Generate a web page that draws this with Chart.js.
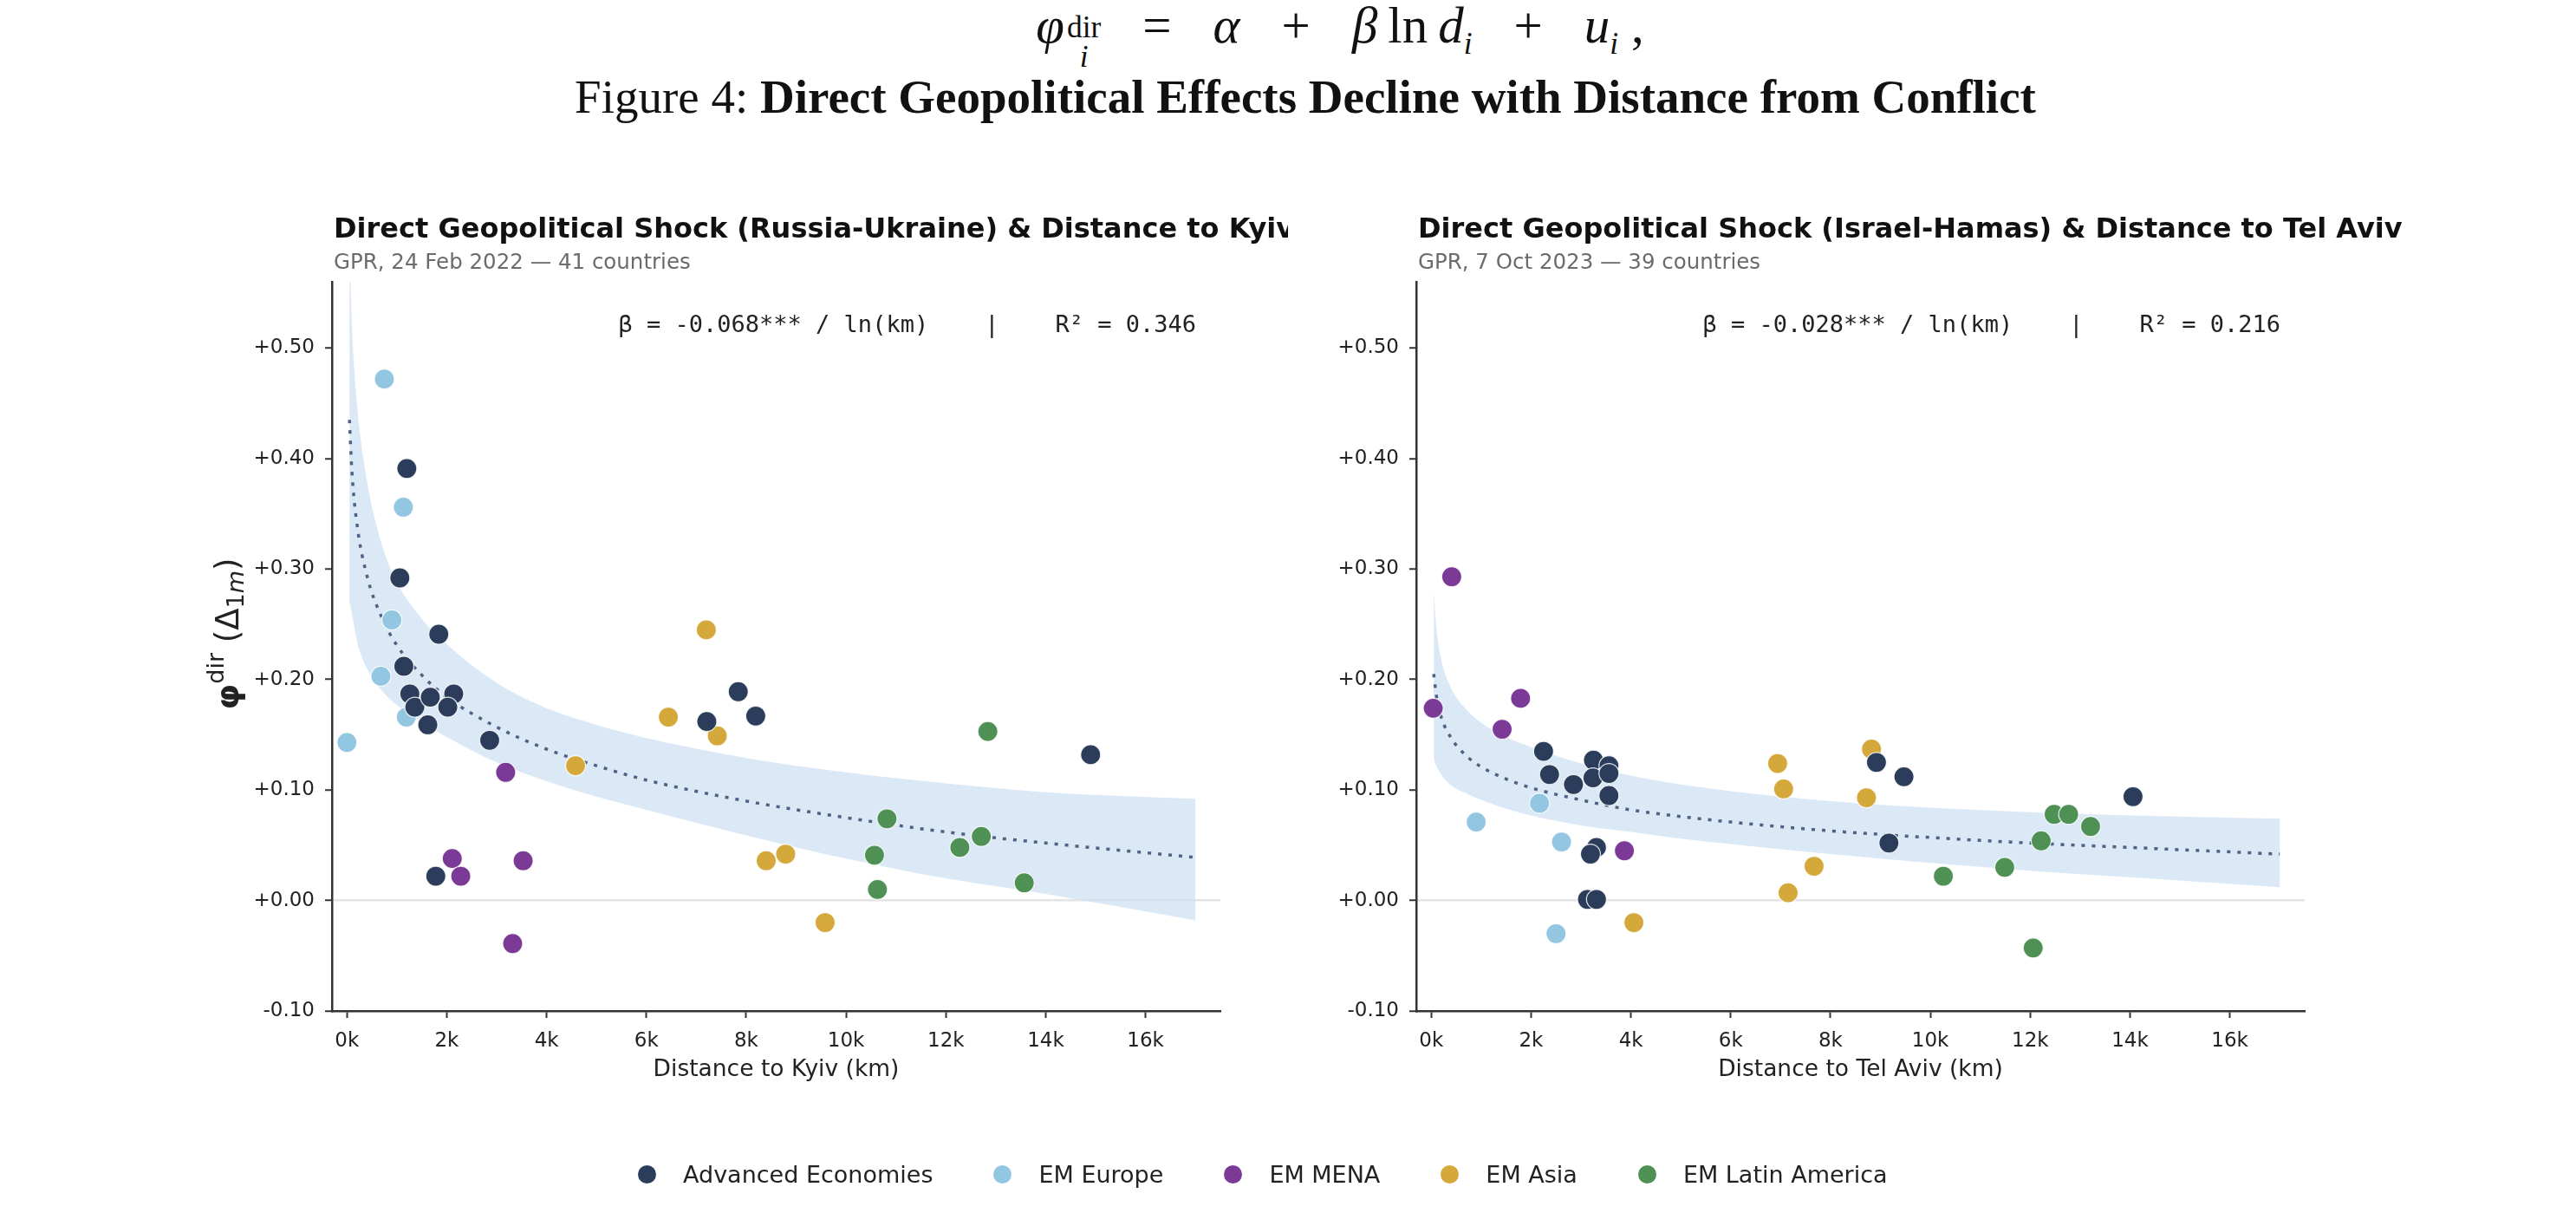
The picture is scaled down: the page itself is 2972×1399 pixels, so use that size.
<!DOCTYPE html>
<html>
<head>
<meta charset="utf-8">
<script src="https://cdn.jsdelivr.net/npm/chart.js@4.4.1/dist/chart.umd.min.js"></script>
<style>
  body { margin: 0; width: 2972px; height: 1399px; background: #fff; position: relative; overflow: hidden; font-family: "DejaVu Sans", sans-serif; }
  #eq { position: absolute; top: -5px; left: 120px; width: 2852px; text-align: center; font-family: "Liberation Serif", "DejaVu Serif", serif; font-size: 59px; color: #111; white-space: nowrap; }
  #eq i { font-style: italic; }
  #eq .op { margin: 0 48px; }
  #eq .ln { margin: 0 12px; }
  #eq .stack { display: inline-flex; flex-direction: column; font-size: 0.6em; line-height: 0.95; vertical-align: 6px; margin-left: 3px; }
  #eq sub { font-size: 0.6em; }
  #figtitle { position: absolute; top: 80px; left: 40px; width: 2932px; text-align: center; font-family: "Liberation Serif", "DejaVu Serif", serif; font-size: 55px; color: #111; white-space: nowrap; }
  canvas { position: absolute; top: 0; }
  #legend { position: absolute; top: 1339px; left: 736px; display: flex; align-items: center; font-size: 27px; color: #222; white-space: nowrap; }
  #legend .item { display: flex; align-items: center; margin-right: 70px; }
  #legend .dot { width: 21px; height: 21px; border-radius: 50%; margin-right: 31px; }
</style>
</head>
<body>
<div id="eq"><i>φ</i><span class="stack"><span>dir</span><i>i</i></span><span class="op">=</span><i>α</i><span class="op">+</span><i>β</i><span class="ln">ln</span><i>d</i><sub><i>i</i></sub><span class="op">+</span><i>u</i><sub><i>i</i></sub> ,</div>
<div id="figtitle">Figure 4: <b>Direct Geopolitical Effects Decline with Distance from Conflict</b></div>
<canvas id="graficoKyiv" width="1486" height="1399" style="left:0px"></canvas>
<canvas id="graficoTelAviv" width="1486" height="1399" style="left:1486px"></canvas>
<div id="legend"></div>
<script>
// Grupos de países e cores
const grupos = ['Advanced Economies', 'EM Europe', 'EM MENA', 'EM Asia', 'EM Latin America'];
const cores = ['#2b3d5b', '#93c6e0', '#7b3a96', '#d4a83a', '#4f9155'];

// Eixos
const xTicks = [0, 2000, 4000, 6000, 8000, 10000, 12000, 14000, 16000];
const yTicks = [-0.10, 0.00, 0.10, 0.20, 0.30, 0.40, 0.50];

// Rússia-Ucrânia: distância a Kyiv (km) e choque direto
const kyivAdvX = [1200, 1060, 1840, 1140, 1260, 1360, 1670, 2140, 2020, 1620, 2860, 7840, 7210, 8190, 1780, 14900];
const kyivAdvY = [0.391, 0.292, 0.241, 0.212, 0.187, 0.175, 0.184, 0.187, 0.175, 0.159, 0.145, 0.189, 0.162, 0.167, 0.022, 0.132];
const kyivEurX = [750, 1130, 900, 680, 1190, 0];
const kyivEurY = [0.472, 0.356, 0.254, 0.203, 0.166, 0.143];
const kyivMenaX = [3180, 2110, 2280, 3530, 3320];
const kyivMenaY = [0.116, 0.038, 0.022, 0.036, -0.039];
const kyivAsiaX = [7200, 6440, 7420, 4580, 8400, 8790, 9580];
const kyivAsiaY = [0.245, 0.166, 0.149, 0.122, 0.036, 0.042, -0.020];
const kyivLatamX = [12840, 10820, 12710, 12280, 10570, 13570, 10630];
const kyivLatamY = [0.153, 0.074, 0.058, 0.048, 0.041, 0.016, 0.010];

// Israel-Hamas: distância a Tel Aviv (km) e choque direto
const tlvAdvX = [2250, 2370, 2850, 3250, 3240, 3560, 3560, 3560, 3310, 3190, 3130, 3310, 8920, 9470, 9170, 14060];
const tlvAdvY = [0.135, 0.114, 0.105, 0.127, 0.111, 0.122, 0.115, 0.095, 0.048, 0.042, 0.001, 0.001, 0.125, 0.112, 0.052, 0.094];
const tlvEurX = [900, 2170, 2610, 2500];
const tlvEurY = [0.071, 0.088, 0.053, -0.030];
const tlvMenaX = [40, 1420, 1790, 3870, 410];
const tlvMenaY = [0.174, 0.155, 0.183, 0.045, 0.293];
const tlvAsiaX = [6940, 7060, 7150, 7670, 8820, 8720, 4060];
const tlvAsiaY = [0.124, 0.101, 0.007, 0.031, 0.137, 0.093, -0.020];
const tlvLatamX = [10260, 11490, 12220, 12480, 12770, 13210, 12060];
const tlvLatamY = [0.022, 0.030, 0.054, 0.078, 0.078, 0.067, -0.043];

// Curva ajustada e banda
const fitDist = [50, 100, 200, 400, 700, 1000, 1500, 2000, 3000, 4000, 5000, 6000, 8000, 10000, 12000, 14000, 17000];
const kyivFit = [0.435, 0.388, 0.341, 0.294, 0.256, 0.231, 0.204, 0.184, 0.157, 0.137, 0.122, 0.109, 0.090, 0.075, 0.062, 0.052, 0.039];
const kyivUpper = [0.600, 0.520, 0.450, 0.380, 0.322, 0.288, 0.255, 0.232, 0.197, 0.174, 0.159, 0.147, 0.129, 0.116, 0.106, 0.098, 0.092];
const kyivLower = [0.270, 0.260, 0.235, 0.210, 0.190, 0.177, 0.162, 0.148, 0.125, 0.108, 0.094, 0.082, 0.059, 0.038, 0.020, 0.006, -0.018];
const tlvFit = [0.205, 0.186, 0.166, 0.147, 0.131, 0.121, 0.110, 0.102, 0.091, 0.082, 0.076, 0.071, 0.063, 0.057, 0.052, 0.048, 0.042];
const tlvUpper = [0.280, 0.248, 0.218, 0.192, 0.173, 0.161, 0.148, 0.139, 0.124, 0.113, 0.105, 0.099, 0.090, 0.084, 0.080, 0.077, 0.074];
const tlvLower = [0.128, 0.122, 0.114, 0.104, 0.097, 0.091, 0.083, 0.077, 0.068, 0.062, 0.056, 0.051, 0.042, 0.034, 0.027, 0.021, 0.012];

const pares = (xs, ys) => xs.map((x, i) => ({ x: x, y: ys[i] }));

function montarDatasets(grupoXY, fit, upper, lower) {
    const ds = grupoXY.map((g, i) => ({
        label: grupos[i],
        data: pares(g[0], g[1]),
        backgroundColor: cores[i],
        borderColor: 'rgba(255,255,255,0.85)',
        borderWidth: 1.2,
        pointRadius: 11.5,
        pointHoverRadius: 11.5
    }));
    ds.push({
        label: 'fit',
        data: pares(fitDist, fit),
        showLine: true,
        borderColor: '#4f6283',
        borderWidth: 3.5,
        borderDash: [4, 8],
        pointRadius: 0,
        cubicInterpolationMode: 'monotone',
        fill: false
    });
    ds.push({
        label: 'upper',
        data: pares(fitDist, upper),
        showLine: true,
        borderWidth: 0,
        borderColor: 'rgba(0,0,0,0)',
        pointRadius: 0,
        cubicInterpolationMode: 'monotone',
        fill: '+1',
        backgroundColor: 'rgba(205,223,243,0.72)'
    });
    ds.push({
        label: 'lower',
        data: pares(fitDist, lower),
        showLine: true,
        borderWidth: 0,
        borderColor: 'rgba(0,0,0,0)',
        pointRadius: 0,
        cubicInterpolationMode: 'monotone',
        fill: false
    });
    return ds;
}

// Textos desenhados em volta da área do gráfico
const decor = {
    id: 'decor',
    afterDraw(chart, args, o) {
        const ctx = chart.ctx;
        const a = chart.chartArea;
        ctx.save();
        ctx.textBaseline = 'middle';
        ctx.textAlign = 'left';
        ctx.fillStyle = '#111';
        ctx.font = 'bold 32px "DejaVu Sans"';
        ctx.fillText(o.title, a.left + 2, 266);
        ctx.fillStyle = '#6b6b6b';
        ctx.font = '24.5px "DejaVu Sans"';
        ctx.fillText(o.subtitle, a.left + 2, 304);
        ctx.fillStyle = '#222';
        ctx.font = '27px "DejaVu Sans Mono"';
        ctx.textAlign = 'right';
        ctx.fillText(o.note, a.right - 28, 376);
        ctx.textAlign = 'center';
        ctx.font = '26.5px "DejaVu Sans"';
        ctx.fillText(o.xTitle, (a.left + a.right) / 2, a.bottom + 68);
        if (o.yTitle) {
            ctx.translate(265, 731);
            ctx.rotate(-Math.PI / 2);
            ctx.textAlign = 'left';
            const partes = [
                ['φ', 'bold 38px "DejaVu Sans"', 0],
                ['dir', '27px "DejaVu Sans"', -14],
                [' (Δ', '37px "DejaVu Sans"', 0],
                ['1', '27px "DejaVu Sans"', 9],
                ['m', 'italic 27px "DejaVu Sans"', 9],
                [')', '37px "DejaVu Sans"', 0]
            ];
            let total = 0;
            partes.forEach(p => { ctx.font = p[1]; total += ctx.measureText(p[0]).width; });
            let x = -total / 2;
            partes.forEach(p => {
                ctx.font = p[1];
                ctx.fillText(p[0], x, p[2]);
                x += ctx.measureText(p[0]).width;
            });
        }
        ctx.restore();
    }
};

function criarGrafico(id, datasets, padLeft, padRight, textos) {
    const ctx = document.getElementById(id).getContext('2d');
    return new Chart(ctx, {
        type: 'scatter',
        data: { datasets: datasets },
        options: {
            responsive: false,
            animation: false,
            layout: { padding: { left: padLeft, right: padRight, top: 325, bottom: 153 } },
            plugins: {
                legend: { display: false },
                tooltip: { enabled: false },
                decor: textos
            },
            scales: {
                x: {
                    type: 'linear',
                    min: -300,
                    max: 17500,
                    afterBuildTicks: s => { s.ticks = xTicks.map(v => ({ value: v })); },
                    afterFit: s => { s.height = 80; },
                    border: { display: true, color: '#333', width: 2.5 },
                    grid: { drawOnChartArea: false, tickColor: '#333', tickLength: 8, tickWidth: 2 },
                    ticks: {
                        autoSkip: false, maxRotation: 0, padding: 13, color: '#222',
                        font: { family: 'DejaVu Sans', size: 23 },
                        callback: v => (v / 1000) + 'k'
                    }
                },
                y: {
                    min: -0.10,
                    max: 0.56,
                    afterBuildTicks: s => { s.ticks = yTicks.map(v => ({ value: v })); },
                    afterFit: s => { s.width = 100; },
                    border: { display: true, color: '#333', width: 2.5 },
                    grid: {
                        color: c => (c.tick && Math.abs(c.tick.value) < 1e-9) ? '#e4e4e4' : 'rgba(0,0,0,0)',
                        lineWidth: 2.5,
                        tickColor: '#333', tickLength: 8, tickWidth: 2
                    },
                    ticks: {
                        padding: 12, color: '#222',
                        font: { family: 'DejaVu Sans', size: 23 },
                        callback: v => (v >= 0 ? '+' : '') + v.toFixed(2)
                    }
                }
            }
        },
        plugins: [decor]
    });
}

const graficoKyiv = criarGrafico('graficoKyiv',
    montarDatasets([[kyivAdvX, kyivAdvY], [kyivEurX, kyivEurY], [kyivMenaX, kyivMenaY], [kyivAsiaX, kyivAsiaY], [kyivLatamX, kyivLatamY]],
        kyivFit, kyivUpper, kyivLower),
    283, 78,
    {
        title: 'Direct Geopolitical Shock (Russia-Ukraine) & Distance to Kyiv',
        subtitle: 'GPR, 24 Feb 2022 — 41 countries',
        note: 'β = -0.068*** / ln(km)    |    R² = 0.346',
        xTitle: 'Distance to Kyiv (km)',
        yTitle: true
    });

const graficoTelAviv = criarGrafico('graficoTelAviv',
    montarDatasets([[tlvAdvX, tlvAdvY], [tlvEurX, tlvEurY], [tlvMenaX, tlvMenaY], [tlvAsiaX, tlvAsiaY], [tlvLatamX, tlvLatamY]],
        tlvFit, tlvUpper, tlvLower),
    48, 313,
    {
        title: 'Direct Geopolitical Shock (Israel-Hamas) & Distance to Tel Aviv',
        subtitle: 'GPR, 7 Oct 2023 — 39 countries',
        note: 'β = -0.028*** / ln(km)    |    R² = 0.216',
        xTitle: 'Distance to Tel Aviv (km)',
        yTitle: false
    });

// Legenda comum
const legenda = document.getElementById('legend');
grupos.forEach((g, i) => {
    const item = document.createElement('div');
    item.className = 'item';
    item.innerHTML = '<span class="dot" style="background:' + cores[i] + '"></span>' + g;
    legenda.appendChild(item);
});
</script>
</body>
</html>
